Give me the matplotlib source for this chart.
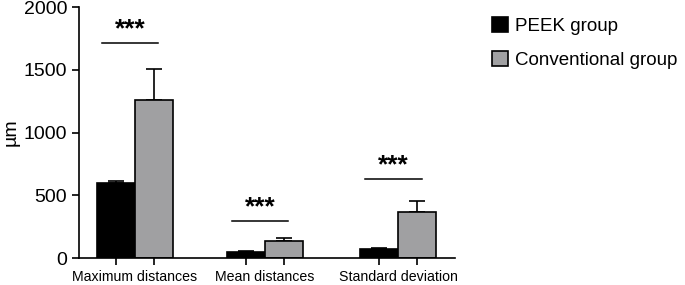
import numpy as np
import matplotlib.pyplot as plt

plt.rcParams['font.family'] = ['Liberation Sans', 'DejaVu Sans']

# data
categories = ['Maximum distances', 'Mean distances', 'Standard deviation']
peek_mean = [600, 45, 72]
peek_sd = [12, 8, 10]
conv_mean = [1260, 135, 365]
conv_sd = [250, 25, 90]
sig_y = [1715, 295, 630]
sig_text = ['***', '***', '***']

centers = np.array([0, 3.42, 6.92])
w = 1.0

fig = plt.figure(figsize=(6.85, 2.85), dpi=100)
ax = fig.add_axes([0.1153, 0.0947, 0.549, 0.8807])

ax.bar(centers - w / 2, peek_mean, w, color='black', edgecolor='black',
       linewidth=1.2, label='PEEK group', zorder=2)
ax.bar(centers + w / 2, conv_mean, w, color='#a0a0a2', edgecolor='black',
       linewidth=1.2, label='Conventional group', zorder=2)
ax.errorbar(centers - w / 2, peek_mean, yerr=[np.zeros(3), peek_sd], fmt='none',
            ecolor='black', elinewidth=1.2, capsize=5.5, capthick=1.2, zorder=1)
ax.errorbar(centers + w / 2, conv_mean, yerr=[np.zeros(3), conv_sd], fmt='none',
            ecolor='black', elinewidth=1.2, capsize=5.5, capthick=1.2, zorder=1)

for c, y, s in zip(centers, sig_y, sig_text):
    ax.plot([c - 0.87, c + 0.62], [y, y], color='black', lw=1.1)
    ax.text(c - 0.12, y + 55, s, ha='center', va='baseline', fontsize=19,
            fontweight='semibold')

ax.set_xlim(-1.47, 8.42)
ax.set_ylim(0, 2000)
ax.set_yticks([0, 500, 1000, 1500, 2000])
ax.set_xticks(np.concatenate([centers - w / 2, centers + w / 2]))
ax.set_xticklabels([''] * 6)
for c, name in zip(centers, categories):
    ax.text(c, -95, name, ha='center', va='top', fontsize=10.2,
            transform=ax.transData)
ax.tick_params(axis='y', labelsize=14, width=1.2, length=5)
ax.tick_params(axis='x', width=1.2, length=5)
ax.spines['top'].set_visible(False)
ax.spines['right'].set_visible(False)
ax.spines['left'].set_linewidth(1.2)
ax.spines['bottom'].set_linewidth(1.2)
ax.set_ylabel('µm', fontsize=14, labelpad=3)

fig.legend(loc='upper left', bbox_to_anchor=(0.693, 1.0), frameon=False,
           fontsize=13.5, handlelength=0.85, handleheight=0.85, handletextpad=0.4,
           labelspacing=0.85)

fig.savefig('out.png', dpi=100)
